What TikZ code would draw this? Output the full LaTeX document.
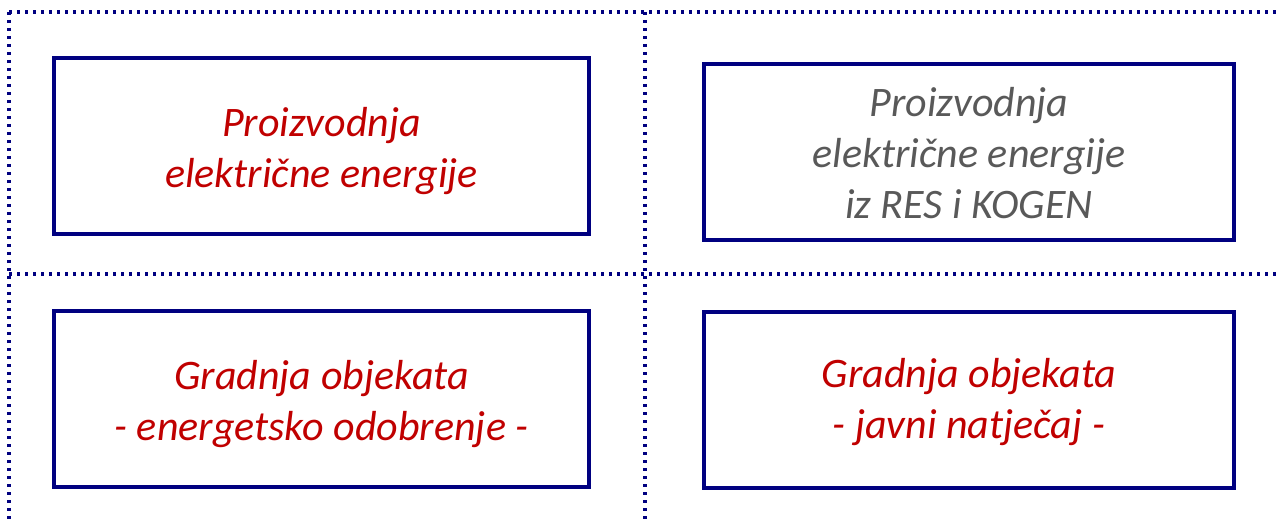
\documentclass[tikz,border=0pt]{standalone}
\usepackage{fontspec}
\setmainfont{Carlito}
\definecolor{navy}{RGB}{0,0,128}
\definecolor{txtred}{RGB}{192,0,0}
\definecolor{txtgrey}{RGB}{89,89,89}
\begin{document}
\begin{tikzpicture}[x=1pt,y=-1pt,
  sep/.style={navy,line width=3.4pt,dash pattern=on 3.4pt off 4.6pt},
  card/.style={draw=navy,line width=4pt,inner sep=0pt},
  cardtext/.style={inner sep=0pt,align=center,
    font=\fontsize{42}{51}\selectfont\itshape},
  redtxt/.style={text=txtred},
  greytxt/.style={text=txtgrey}]
\useasboundingbox (0,0) rectangle (1278,524);
\coordinate (tl) at (9,12);
\coordinate (tr) at (1278,12);
\coordinate (bl) at (9,524);
\coordinate (mt) at (645,12);
\coordinate (mb) at (645,524);
\coordinate (ml) at (9,274);
\coordinate (mr) at (1278,274);
\draw[sep] (tl) -- (tr);
\draw[sep] (tl) -- (bl);
\draw[sep] (mt) -- (mb);
\draw[sep] (ml) -- (mr);
\node[card,minimum width=535pt,minimum height=176pt] (a) at (321.5,146) {};
\node[card,minimum width=530pt,minimum height=176pt] (b) at (969,152) {};
\node[card,minimum width=535pt,minimum height=176pt] (c) at (321.5,399) {};
\node[card,minimum width=530pt,minimum height=176pt] (d) at (969,400) {};
\node[cardtext,redtxt,yshift=-5pt] (at) at (a.center) {Proizvodnja\\elektri\v{c}ne energije};
\node[cardtext,greytxt,yshift=-1pt] (bt) at (b.center) {Proizvodnja\\elektri\v{c}ne energije\\iz RES i KOGEN};
\node[cardtext,redtxt,yshift=-5pt] (ct) at (c.center) {Gradnja objekata\\- energetsko odobrenje -};
\node[cardtext,redtxt,yshift=-2pt] (dt) at (d.center) {Gradnja objekata\\- javni natje\v{c}aj -};
\end{tikzpicture}
\end{document}
